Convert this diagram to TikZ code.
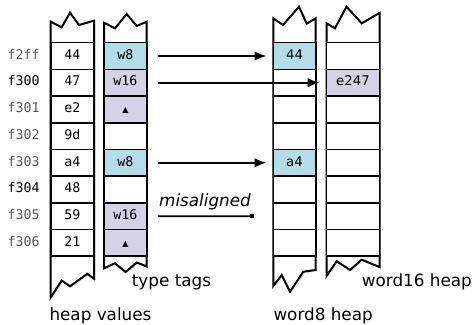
\documentclass[tikz,border=0pt]{standalone}
\usepackage{fontspec}
\setmainfont{DejaVu Sans}
\setmonofont{DejaVu Sans Mono}
\usetikzlibrary{arrows.meta,positioning,shadows}

\definecolor{tagblue}{HTML}{B4DCE9}
\definecolor{tagpurple}{HTML}{D5D1E6}
\definecolor{addrgray}{HTML}{555555}

\newcommand\uptag{{\rmfamily\fontsize{8}{8}\selectfont ▲}}

\begin{document}
\begin{tikzpicture}[x=1pt, y=-1pt,
    heapcol/.style={draw, fill=white, line width=2pt, drop shadow={opacity=0.2, shadow xshift=1.5pt, shadow yshift=-1.5pt}},
    heapcell/.style={draw, line width=1.6pt, fill=#1, minimum height=26.7pt, inner sep=0pt, text height=9pt, text depth=2.5pt},
    heapcell/.default=white,
    mono/.style={font=\ttfamily\fontsize{13.3}{15}\selectfont},
    sans/.style={font=\fontsize{13.3}{15}\selectfont},
    heaplabel/.style={anchor=base west, inner sep=0pt, font=\fontsize{16.8}{20}\selectfont},
    ptr/.style={line width=1.9pt, shorten <=10.5pt, shorten >=6pt, -{Latex[length=12pt,width=9.5pt]}}]
    \useasboundingbox (0,0) rectangle (473,324);

    % the four columns, torn at top and bottom
    \draw[heapcol] (50.7,21.7) -- (61.7,27.3) -- (70,12.7) -- (79,25) -- (94,20.7) -- (94,278.7) -- (87.3,273.8) -- (70,286.3) -- (61.7,280.5) -- (50.7,297.5) -- cycle;
    \draw[heapcol] (104,22.7) -- (115,28.3) -- (126.7,14) -- (136.7,26) -- (146.7,21.7) -- (146.7,266.5) -- (136.7,262.5) -- (125.5,272) -- (115,263.3) -- (104,268.3) -- cycle;
    \draw[heapcol] (273.3,18.3) -- (283,25) -- (299,6.7) -- (306.7,23.7) -- (315.7,18.3) -- (315.7,270) -- (303.3,271.7) -- (290,291.7) -- (281.7,275) -- (273.3,286) -- cycle;
    \draw[heapcol] (326.5,23.3) -- (335,28.3) -- (346.5,6.7) -- (361.7,23.3) -- (379.5,13) -- (379.5,267) -- (361.7,259.7) -- (350,270) -- (336.7,261.2) -- (326.5,276) -- cycle;

    % heap values and their addresses
    \foreach \val [count=\i from 0] in {44,47,e2,9d,a4,48,59,21}
        \node[heapcell, mono, minimum width=43.3pt] (v\i) at (72.35, 56+26.7*\i) {\val};
    \foreach \addr/\ink [count=\i from 0] in {f2ff/addrgray, f300/black, f301/addrgray, f302/addrgray, f303/addrgray, f304/black, f305/addrgray, f306/addrgray}
        \node[mono, text=\ink, inner sep=0pt, text height=9pt, text depth=2.5pt, left=10pt of v\i] (addr\i) {\addr};

    % type tags
    \foreach \tag/\col [count=\i from 0] in {w8/tagblue, w16/tagpurple, \uptag/tagpurple, /white, w8/tagblue, /white, w16/tagpurple, \uptag/tagpurple}
        \node[heapcell=\col, mono, minimum width=42.7pt] (t\i) at (125.35, 56+26.7*\i) {\tag};

    % word8 and word16 heaps
    \foreach \val/\col [count=\i from 0] in {44/tagblue, /white, /white, /white, a4/tagblue, /white, /white, /white}
        \node[heapcell=\col, sans, minimum width=42.4pt] (a\i) at (294.5, 56+26.7*\i) {\val};
    \foreach \val/\col [count=\i from 0] in {/white, e247/tagpurple, /white, /white, /white, /white, /white, /white}
        \node[heapcell=\col, sans, minimum width=53pt] (b\i) at (353, 56+26.7*\i) {\val};

    % pointers
    \draw[ptr] (t0) -- (a0);
    \draw[ptr] (t1) -- (b1);
    \draw[ptr] (t4) -- (a4);
    \coordinate (misend) at (254,216.2);
    \draw[ptr, shorten >=0pt, -{Square[length=4.5pt,width=4.5pt]}] (t6) -- node[pos=0.54, above, inner sep=5pt, font=\itshape\fontsize{16.8}{20}\selectfont] (mislbl) {misaligned} (misend);

    \node[heaplabel] (typelbl) at (131.7,286.7) {type tags};
    \node[heaplabel] (valuelbl) at (49.3,320.5) {heap values};
    \node[heaplabel] (w8lbl) at (273.3,320.5) {word8 heap};
    \node[heaplabel] (w16lbl) at (361.7,286.7) {word16 heap};
\end{tikzpicture}
\end{document}
